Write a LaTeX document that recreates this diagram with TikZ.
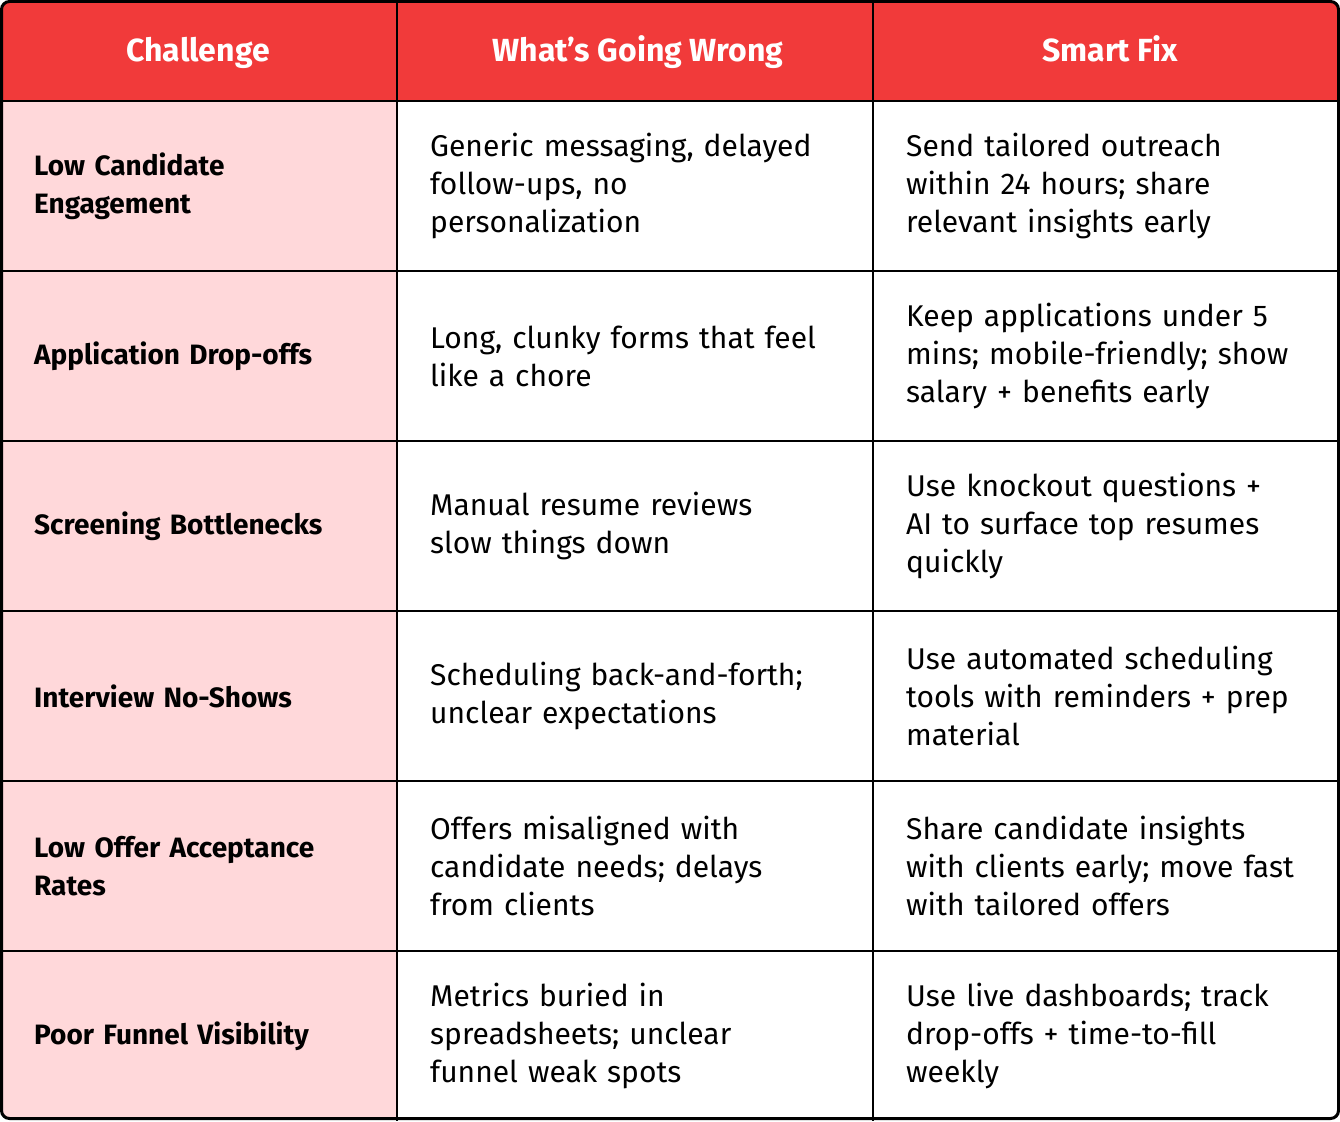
\documentclass[tikz,border=0pt]{standalone}
\usepackage{fontspec}
\setmainfont{Fira Sans}
\usetikzlibrary{positioning}
\definecolor{headred}{HTML}{F13A3A}
\definecolor{chalpink}{HTML}{FFD8DA}
\tikzset{
  headcell/.style={text=white, font=\fontsize{32}{36}\selectfont\bfseries, anchor=base},
  chalcell/.style={anchor=west, text width=360pt, align=left, inner sep=0pt,
    font=\fontsize{28}{38}\selectfont\bfseries},
  textcell/.style={anchor=west, text width=440pt, align=left, inner sep=0pt,
    font=\fontsize{30}{38}\selectfont}
}
\begin{document}
\begin{tikzpicture}[x=1pt,y=-1pt]
\useasboundingbox (0,0) rectangle (1340,1121);
% backgrounds
\begin{scope}
\clip[rounded corners=8pt] (1.5,1.5) rectangle (1338.5,1118.5);
\fill[white] (0,0) rectangle (1340,1121);
\fill[headred] (0,0) rectangle (1340,101);
\fill[chalpink] (0,101) rectangle (397,1121);
\end{scope}
% grid
\foreach \y in {101,271,441,611,781,951}
  \draw[line width=2.5pt] (0,\y) -- (1340,\y);
\foreach \x in {397,873}
  \draw[line width=2.5pt] (\x,0) -- (\x,1121);
\draw[line width=3pt, rounded corners=8pt] (1.5,1.5) rectangle (1338.5,1118.5);
% header
\node[headcell] (hchal) at (198,62) {Challenge};
\node[headcell] (hwrong) at (638,62) {What’s Going Wrong};
\node[headcell] (hfix) at (1110,62) {Smart Fix};
% rows
\node[chalcell] (c1) at (34,186) {Low Candidate\\Engagement};
\node[textcell] (w1) at (430,186) {Generic messaging, delayed\\follow-ups, no\\personalization};
\node[textcell] (f1) at (906,186) {Send tailored outreach\\within 24 hours; share\\relevant insights early};

\node[chalcell] (c2) at (34,356) {Application Drop-offs};
\node[textcell] (w2) at (430,356) {Long, clunky forms that feel\\like a chore};
\node[textcell] (f2) at (906,356) {Keep applications under 5\\mins; mobile-friendly; show\\salary + benefits early};

\node[chalcell] (c3) at (34,526) {Screening Bottlenecks};
\node[textcell] (w3) at (430,526) {Manual resume reviews\\slow things down};
\node[textcell] (f3) at (906,526) {Use knockout questions +\\AI to surface top resumes\\quickly};

\node[chalcell] (c4) at (34,696) {Interview No-Shows};
\node[textcell] (w4) at (430,696) {Scheduling back-and-forth;\\unclear expectations};
\node[textcell] (f4) at (906,696) {Use automated scheduling\\tools with reminders + prep\\material};

\node[chalcell] (c5) at (34,866) {Low Offer Acceptance\\Rates};
\node[textcell] (w5) at (430,866) {Offers misaligned with\\candidate needs; delays\\from clients};
\node[textcell] (f5) at (906,866) {Share candidate insights\\with clients early; move fast\\with tailored offers};

\node[chalcell] (c6) at (34,1036) {Poor Funnel Visibility};
\node[textcell] (w6) at (430,1036) {Metrics buried in\\spreadsheets; unclear\\funnel weak spots};
\node[textcell] (f6) at (906,1036) {Use live dashboards; track\\drop-offs + time-to-fill\\weekly};
\end{tikzpicture}
\end{document}
